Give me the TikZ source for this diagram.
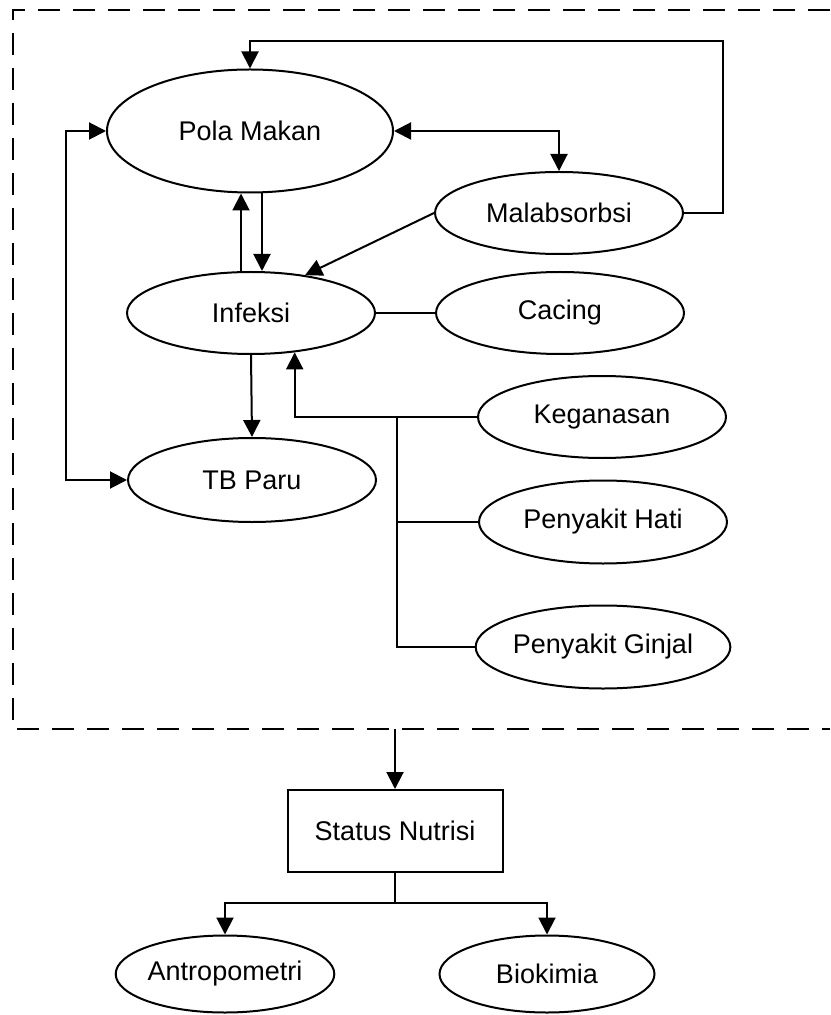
\documentclass[tikz,border=0pt]{standalone}
\usepackage{fontspec}
\setmainfont{Liberation Sans}
\usetikzlibrary{arrows.meta,shapes.geometric,calc}

\begin{document}
\begin{tikzpicture}[x=0.5pt, y=-0.5pt,
    every node/.style={font=\fontsize{13.5}{16}\selectfont},
    oval/.style={ellipse, draw, line width=1pt, inner sep=0pt,
        minimum width=124pt, minimum height=41pt},
    box/.style={rectangle, draw, line width=1pt,
        minimum width=107.5pt, minimum height=41pt},
    link/.style={line width=1pt},
    arr/.style={link, -{Triangle[length=8.5pt, width=8.5pt]}},
    biarr/.style={link, {Triangle[length=8.5pt, width=8.5pt]}-{Triangle[length=8.5pt, width=8.5pt]}},
]

% Page
\fill[white] (0,0) rectangle (830,1015);
\useasboundingbox (0,0) rectangle (830,1015);

% Dashed frame (open to the right)
\draw[line width=1.2pt, dash pattern=on 11pt off 6.5pt] (830,10) -- (13,10) -- (13,729) -- (830,729);

% Causes
\node[oval, minimum width=143pt, minimum height=61.5pt] (pola) at (250,131) {Pola Makan};
\node[oval] (malab) at (559,213) {Malabsorbsi};
\node[oval] (infeksi) at (251,313) {Infeksi};
\node[oval] (cacing) at (560,313) {Cacing};
\node[oval, minimum height=42pt] (tbparu) at (252,480) {TB Paru};

% Other diseases
\node[oval] (kegan) at (602,417) {Keganasan};
\node[oval, minimum height=41.5pt] (hati) at (603,522) {Penyakit Hati};
\node[oval, minimum height=41.5pt] (ginjal) at (603,647) {Penyakit Ginjal};

% Outcome
\node[box] (status) at (395,831) {Status Nutrisi};
\node[oval, minimum width=107pt, minimum height=38.5pt] (antro) at (225,974) {Antropometri};
\node[oval, minimum width=107.5pt, minimum height=38.5pt] (bio) at (547,974) {Biokimia};

% Helper points
\coordinate (loopTR) at (723,41);
\coordinate (lbus) at (66,300);
\coordinate (trunk) at (397,417);
\coordinate (framebot) at (395,729);
\coordinate (split) at (395,903);

% Arrows inside the frame
\draw[arr] (malab.east) -| (loopTR) -| (pola.north);
\draw[biarr] (pola.east) -| (malab.north);
\draw[arr] ([xshift=-5pt]infeksi.north) -- ([xshift=-4.5pt]pola.south);
\draw[arr] ([xshift=6pt]pola.south) -- ([xshift=5.5pt]infeksi.north);
\draw[arr] (malab.west) -- (infeksi.35);
\draw[link] (infeksi.east) -- (cacing.west);
\draw[arr] (infeksi.south) -- (tbparu.north);
\draw[biarr] (pola.west) -| (lbus) |- (tbparu.west);

% Branch of other diseases
\draw[arr] (kegan.west) -| (infeksi.-42);
\draw[link] (trunk) |- (ginjal.west);
\draw[link] (trunk |- hati.west) -- (hati.west);

% Down to nutrition status
\draw[arr] (framebot) -- (status.north);
\draw[link] (status.south) -- (split);
\draw[arr] (split) -| (antro.north);
\draw[arr] (split) -| (bio.north);

\end{tikzpicture}
\end{document}
